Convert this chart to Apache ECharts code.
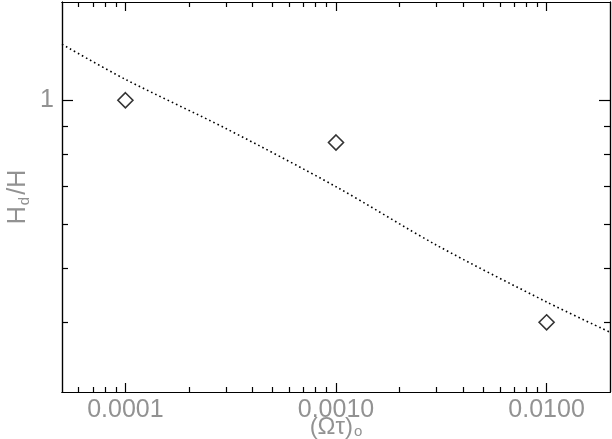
<!DOCTYPE html>
<html>
<head>
<meta charset="utf-8">
<script src="https://cdn.jsdelivr.net/npm/echarts@6/dist/echarts.min.js"></script>
<style>
  html, body { margin: 0; padding: 0; background: #fff; }
  #chart { width: 612px; height: 439px; }
</style>
</head>
<body>
<div id="chart"></div>
<script>
// ── Data ──────────────────────────────────────────────────────────────────
var obsX = [0.0001, 0.001, 0.01];
var obsY = [1.0, 0.84, 0.40];

var fitX = [0.00005, 0.0001, 0.0003, 0.001, 0.003, 0.01, 0.02];
var fitY = [1.26, 1.09, 0.89, 0.70, 0.55, 0.435, 0.384];

var xMajor = [0.0001, 0.001, 0.01];
var xMajorLabels = ['0.0001', '0.0010', '0.0100'];
var xMinor = [0.00006, 0.00007, 0.00008, 0.00009,
              0.0002, 0.0003, 0.0004, 0.0005, 0.0006, 0.0007, 0.0008, 0.0009,
              0.002, 0.003, 0.004, 0.005, 0.006, 0.007, 0.008, 0.009];
var yMajor = [1];
var yMajorLabels = ['1'];
var yMinor = [0.4, 0.5, 0.6, 0.7, 0.8, 0.9];

// ── Style helpers ─────────────────────────────────────────────────────────
var INK = '#000';
var GREY = '#929292';
var FONT = "'Liberation Sans', Arial, sans-serif";

function pairs(xs, ys) {
  return xs.map(function(x, i) { return [x, ys[i]]; });
}

function labelFor(vals, labels) {
  return function(v) {
    for (var i = 0; i < vals.length; i++) {
      if (Math.abs(Math.log10(v) - Math.log10(vals[i])) < 1e-6) return labels[i];
    }
    return '';
  };
}

// one frame side: a log axis that only draws its line and a set of inward ticks
function logAxis(opt) {
  var base = {
    type: 'log',
    logBase: 10,
    min: opt.min,
    max: opt.max,
    position: opt.position,
    axisLine: { show: true, onZero: false, lineStyle: { color: INK, width: 1.2 } },
    splitLine: { show: false },
    minorSplitLine: { show: false },
    axisTick: { show: true, inside: true, length: opt.major, customValues: opt.ticks,
                lineStyle: { color: INK, width: 1.2 } },
    axisLabel: { show: false }
  };
  for (var k in opt.extra) base[k] = opt.extra[k];
  return base;
}

var chart = echarts.init(document.getElementById('chart'), null, { renderer: 'canvas' });

chart.setOption({
  animation: false,
  backgroundColor: '#fff',
  grid: { left: 62, right: 2, top: 2, bottom: 47, containLabel: false, outerBoundsMode: 'none' },
  xAxis: [
    logAxis({ min: 0.00005, max: 0.02, position: 'bottom', major: 9, ticks: xMajor, extra: {
      axisLabel: { show: true, customValues: xMajor, formatter: labelFor(xMajor, xMajorLabels),
                   color: GREY, fontFamily: FONT, fontSize: 25, margin: 6 },
      name: '(Ωτ){sub|o}', nameLocation: 'middle', nameGap: 24, nameMoveOverlap: false,
      nameTextStyle: { color: GREY, fontFamily: FONT, fontSize: 24, lineHeight: 22,
                       rich: { sub: { fontSize: 15, color: GREY, fontFamily: FONT, padding: [10, 0, 0, 1] } } }
    } }),
    logAxis({ min: 0.00005, max: 0.02, position: 'top', major: 9, ticks: xMajor }),
    logAxis({ min: 0.00005, max: 0.02, position: 'bottom', major: 5, ticks: xMinor }),
    logAxis({ min: 0.00005, max: 0.02, position: 'top', major: 5, ticks: xMinor })
  ],
  yAxis: [
    logAxis({ min: 0.3, max: 1.5, position: 'left', major: 11, ticks: yMajor, extra: {
      axisLabel: { show: true, customValues: yMajor, formatter: labelFor(yMajor, yMajorLabels),
                   color: GREY, fontFamily: FONT, fontSize: 25, margin: 8 },
      name: 'H{sub|d}/H', nameLocation: 'middle', nameGap: 30, nameRotate: 90, nameMoveOverlap: false,
      nameTextStyle: { color: GREY, fontFamily: FONT, fontSize: 25,
                       rich: { sub: { fontSize: 15, color: GREY, fontFamily: FONT, padding: [12, 2, 0, 1] } } }
    } }),
    logAxis({ min: 0.3, max: 1.5, position: 'right', major: 11, ticks: yMajor }),
    logAxis({ min: 0.3, max: 1.5, position: 'left', major: 6, ticks: yMinor }),
    logAxis({ min: 0.3, max: 1.5, position: 'right', major: 6, ticks: yMinor })
  ],
  series: [
    {
      type: 'line',
      data: pairs(fitX, fitY),
      showSymbol: false,
      smooth: 0.3,
      lineStyle: { color: INK, width: 1.6, type: [1.6, 3] },
      z: 2
    },
    {
      type: 'scatter',
      data: pairs(obsX, obsY),
      symbol: 'diamond',
      symbolSize: 15,
      itemStyle: { color: '#fff', borderColor: INK, borderWidth: 1.6 },
      z: 3
    }
  ]
});
</script>
</body>
</html>
